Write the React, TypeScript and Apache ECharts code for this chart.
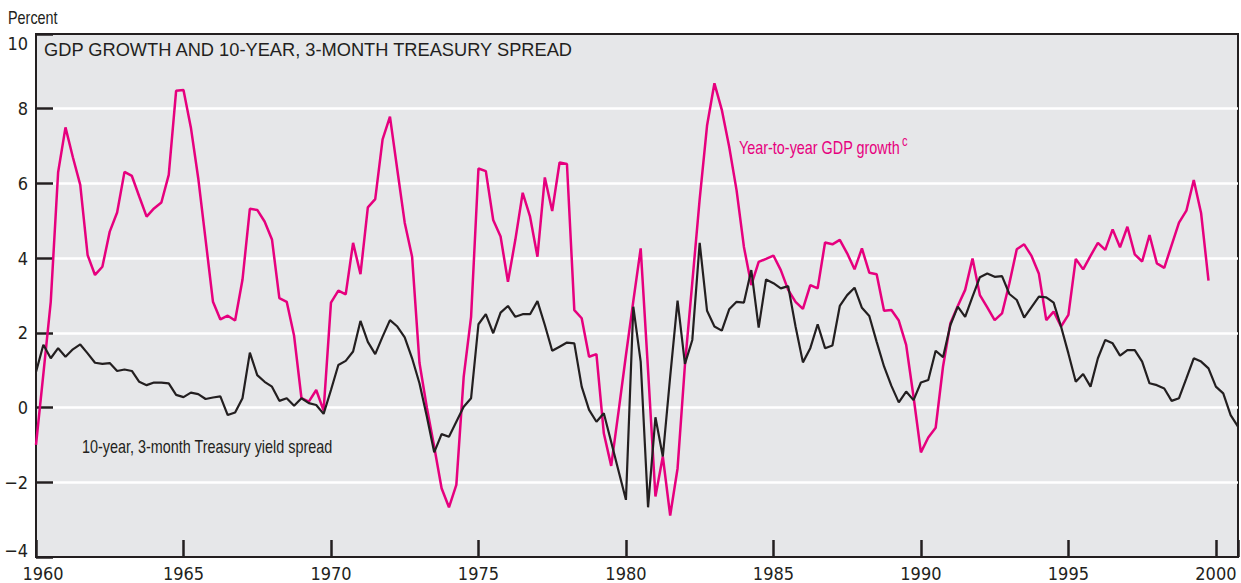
import React, { useEffect, useRef } from "react";
import * as echarts from "echarts";

// Quarterly observations, first quarter = 1960 Q1
const START_YEAR = 1960;

const gdpGrowth: number[] = [
  -1.0, 0.9, 2.83, 6.3, 7.5, 6.7, 5.96, 4.08, 3.55, 3.77,
  4.71, 5.22, 6.31, 6.2, 5.65, 5.11, 5.33, 5.49, 6.23, 8.48,
  8.5, 7.5, 6.14, 4.49, 2.83, 2.36, 2.46, 2.33, 3.42, 5.32,
  5.29, 4.98, 4.5, 2.93, 2.83, 1.92, 0.25, 0.16, 0.47, -0.08,
  2.81, 3.13, 3.03, 4.41, 3.57, 5.36, 5.58, 7.18, 7.79, 6.36,
  4.95, 4.04, 1.2, 0.0, -1.05, -2.16, -2.67, -2.07, 0.83, 2.43,
  6.4, 6.33, 5.02, 4.58, 3.37, 4.49, 5.75, 5.11, 4.04, 6.16,
  5.26, 6.56, 6.52, 2.61, 2.39, 1.36, 1.43, -0.69, -1.56, -0.1,
  1.4, 2.85, 4.26, 1.0, -2.38, -1.31, -2.89, -1.63, 1.14, 3.35,
  5.58, 7.55, 8.68, 7.97, 6.98, 5.82, 4.3, 3.28, 3.9, 3.98,
  4.07, 3.68, 3.15, 2.83, 2.64, 3.28, 3.19, 4.42, 4.37, 4.49,
  4.13, 3.7, 4.26, 3.61, 3.57, 2.59, 2.61, 2.33, 1.68, 0.29,
  -1.2, -0.8, -0.54, 1.1, 2.26, 2.72, 3.15, 3.99, 3.01, 2.68,
  2.34, 2.52, 3.33, 4.24, 4.37, 4.06, 3.58, 2.34, 2.57, 2.17,
  2.48, 3.98, 3.7, 4.06, 4.41, 4.22, 4.77, 4.29, 4.84, 4.1,
  3.91, 4.62, 3.86, 3.74, 4.35, 4.95, 5.27, 6.09, 5.2, 3.4,
];

const yieldSpread: number[] = [
  0.95, 1.68, 1.32, 1.59, 1.36, 1.56, 1.69, 1.45, 1.2, 1.17,
  1.19, 0.98, 1.02, 0.98, 0.69, 0.6, 0.67, 0.67, 0.65, 0.34,
  0.28, 0.4, 0.36, 0.23, 0.27, 0.3, -0.2, -0.13, 0.25, 1.47,
  0.87, 0.69, 0.56, 0.18, 0.25, 0.05, 0.25, 0.12, 0.07, -0.17,
  0.47, 1.14, 1.25, 1.5, 2.32, 1.76, 1.43, 1.9, 2.34, 2.17,
  1.88, 1.32, 0.65, -0.24, -1.2, -0.71, -0.78, -0.38, 0.02, 0.25,
  2.23, 2.5, 1.99, 2.54, 2.72, 2.43, 2.5, 2.5, 2.85, 2.21,
  1.52, 1.63, 1.74, 1.72, 0.56, -0.06, -0.38, -0.15, -0.92, -1.7,
  -2.47, 2.7, 1.23, -2.67, -0.26, -1.31, 0.83, 2.86, 1.17, 1.81,
  4.41, 2.59, 2.17, 2.06, 2.63, 2.83, 2.81, 3.68, 2.14, 3.43,
  3.33, 3.19, 3.25, 2.17, 1.21, 1.59, 2.23, 1.59, 1.66, 2.72,
  3.01, 3.21, 2.67, 2.45, 1.76, 1.1, 0.58, 0.14, 0.43, 0.2,
  0.67, 0.74, 1.52, 1.35, 2.21, 2.7, 2.43, 2.97, 3.49, 3.59,
  3.5, 3.52, 3.04, 2.88, 2.41, 2.69, 2.97, 2.95, 2.81, 2.17,
  1.45, 0.69, 0.9, 0.56, 1.32, 1.81, 1.72, 1.39, 1.54, 1.54,
  1.23, 0.65, 0.6, 0.51, 0.18, 0.25, 0.78, 1.32, 1.23, 1.05,
  0.56, 0.38, -0.2, -0.51,
];

const X_MIN = 1960;
const X_MAX = 2000.75;
const X_INTERVAL = 5;
const Y_MIN = -4;
const Y_MAX = 10;
const Y_INTERVAL = 2;

const TITLE = "GDP GROWTH AND 10-YEAR, 3-MONTH TREASURY SPREAD";
const UNIT_LABEL = "Percent";
const GDP_LABEL = "Year-to-year GDP growth";
const GDP_NOTE = "c";
const SPREAD_LABEL = "10-year, 3-month Treasury yield spread";

const MAGENTA = "#e6007e";
const DARK = "#231f20";
const NARROW = '"DejaVu Sans Condensed", "Liberation Sans", sans-serif';
const SANS = '"Liberation Sans", Arial, Helvetica, sans-serif';

const toPairs = (arr: number[]) => arr.map((v, i) => [START_YEAR + i / 4, v]);

// condensed text: regular sans squeezed horizontally
const condensedText = (
  text: string,
  x: number,
  y: number,
  size: number,
  fill: string
) => ({
  type: "text",
  x,
  y,
  scaleX: 0.8,
  scaleY: 1,
  z: 10,
  style: {
    text,
    fill,
    font: `${size}px ${SANS}`,
    textAlign: "left",
    textVerticalAlign: "middle",
  },
});

export default function App() {
  const ref = useRef<HTMLDivElement>(null);

  useEffect(() => {
    if (!ref.current) return;
    const chart = echarts.init(ref.current, undefined, { renderer: "svg" });
    chart.setOption({
      animation: false,
      grid: {
        left: 36,
        right: 1,
        top: 34,
        bottom: 26,
        show: true,
        backgroundColor: "#e6e7e9",
        borderColor: DARK,
        borderWidth: 2,
        containLabel: false,
      },
      xAxis: {
        type: "value",
        min: X_MIN,
        max: X_MAX,
        interval: X_INTERVAL,
        axisLine: { show: true, onZero: false, lineStyle: { color: DARK, width: 2 } },
        axisTick: { show: true, inside: true, length: 17, lineStyle: { color: DARK, width: 2.5 } },
        splitLine: { show: false },
        axisLabel: {
          margin: 7,
          color: DARK,
          fontFamily: NARROW,
          fontSize: 18,
          formatter: (v: number) => {
            if (Math.abs(v % 5) > 1e-6) return "";
            if (v === X_MIN) return "{first|" + v + "}";
            return String(v);
          },
          rich: {
            first: { padding: [0, 0, 0, 14], color: DARK, fontFamily: NARROW, fontSize: 18 },
          },
        },
      },
      yAxis: {
        type: "value",
        min: Y_MIN,
        max: Y_MAX,
        interval: Y_INTERVAL,
        axisLine: { show: true, lineStyle: { color: DARK, width: 2 } },
        axisTick: { show: true, inside: true, length: 17, lineStyle: { color: DARK, width: 2.5 } },
        splitLine: {
          show: true,
          showMinLine: false,
          showMaxLine: false,
          lineStyle: { color: "#ffffff", width: 2.5 },
        },
        axisLabel: {
          margin: 8,
          color: DARK,
          fontFamily: NARROW,
          fontSize: 18,
          formatter: (v: number) => {
            const s = v < 0 ? "\u2212" + Math.abs(v) : String(v);
            if (v === Y_MAX) return "{top|" + s + "}";
            if (v === Y_MIN) return "{bot|" + s + "}";
            return s;
          },
          rich: {
            top: { padding: [18, 0, 0, 0], color: DARK, fontFamily: NARROW, fontSize: 18 },
            bot: { padding: [0, 0, 14, 0], color: DARK, fontFamily: NARROW, fontSize: 18 },
          },
        },
      },
      series: [
        {
          name: GDP_LABEL,
          type: "line",
          data: toPairs(gdpGrowth),
          showSymbol: false,
          symbol: "none",
          lineStyle: { color: MAGENTA, width: 2.5 },
          itemStyle: { color: MAGENTA },
          z: 2,
        },
        {
          name: SPREAD_LABEL,
          type: "line",
          data: toPairs(yieldSpread),
          showSymbol: false,
          symbol: "none",
          lineStyle: { color: DARK, width: 2.2 },
          itemStyle: { color: DARK },
          z: 3,
        },
      ],
      graphic: [
        condensedText(UNIT_LABEL, 8, 17, 18, DARK),
        {
          type: "text",
          x: 44,
          y: 49,
          z: 10,
          style: {
            text: TITLE,
            fill: DARK,
            font: `18.25px ${SANS}`,
            textAlign: "left",
            textVerticalAlign: "middle",
          },
        },
        condensedText(GDP_LABEL, 739, 147, 18, MAGENTA),
        condensedText(GDP_NOTE, 902, 142, 14, MAGENTA),
        condensedText(SPREAD_LABEL, 82, 446, 18, DARK),
      ],
    });
    return () => chart.dispose();
  }, []);

  return (
    <div
      ref={ref}
      style={{ position: "absolute", left: 0, top: 0, width: 1241, height: 583 }}
    />
  );
}
